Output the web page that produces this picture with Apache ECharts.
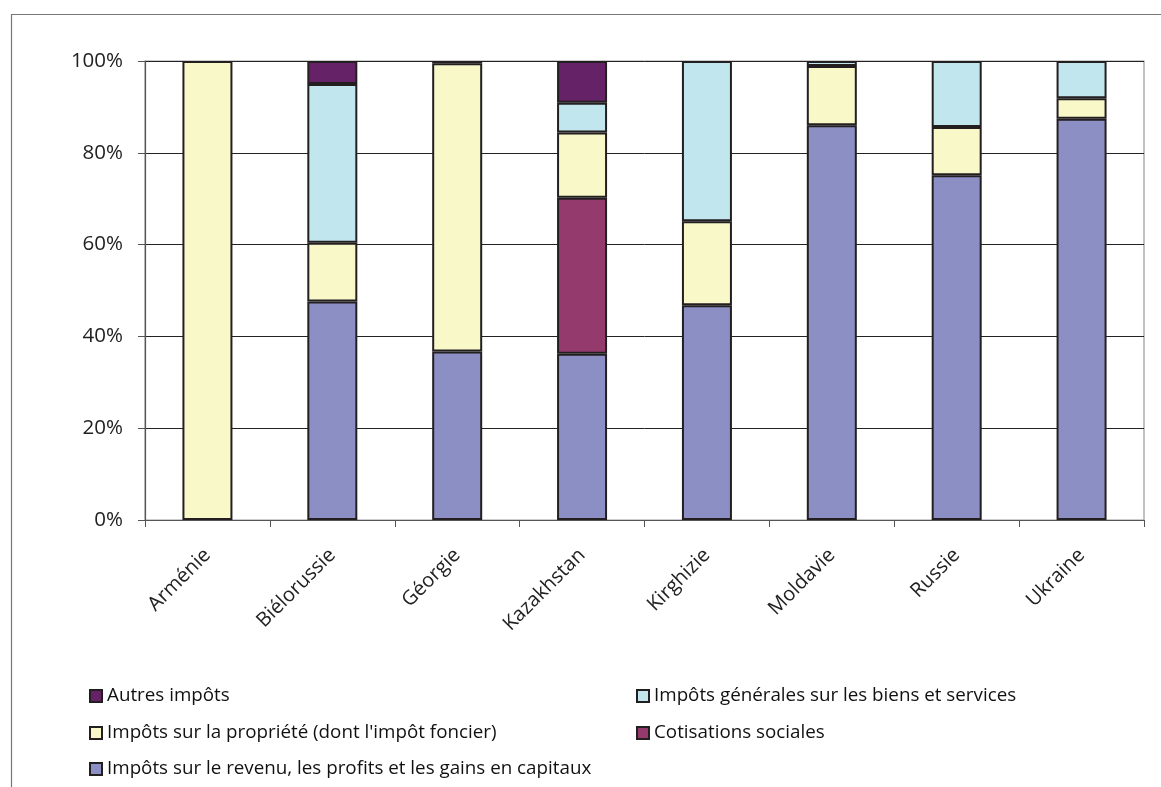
<!DOCTYPE html>
<html>
<head>
<meta charset="utf-8">
<script src="https://cdn.jsdelivr.net/npm/echarts@6/dist/echarts.min.js"></script>
<style>
html,body{margin:0;padding:0;background:#fff;}
#chart{width:1161px;height:787px;}
</style>
</head>
<body>
<div id="chart"></div>
<script>
const categories = ['Arménie','Biélorussie','Géorgie','Kazakhstan','Kirghizie','Moldavie','Russie','Ukraine'];
const yTicks = [0, 20, 40, 60, 80, 100];
const revenu = [null, 47.6, 36.7, 36.2, 46.8, 86.0, 75.1, 87.4];
const cotisations = [null, null, null, 34.0, null, null, null, null];
const propriete = [100, 12.8, 62.8, 14.2, 18.3, 12.9, 10.5, 4.5];
const biensServices = [null, 34.6, null, 6.5, 34.9, 1.1, 14.4, 8.1];
const autres = [null, 5.0, 0.5, 9.1, null, null, null, null];

const names = {
  autres: 'Autres impôts',
  biens: 'Impôts générales sur les biens et services',
  prop: "Impôts sur la propriété (dont l'impôt foncier)",
  cotis: 'Cotisations sociales',
  rev: 'Impôts sur le revenu, les profits et les gains en capitaux'
};
const colors = {
  rev: '#8B8FC4', cotis: '#953A6C', prop: '#F8F8C8', biens: '#C2E6EE', autres: '#652266'
};
const FONT = 'Open Sans';
const border = '#231F20';

function bar(key, data) {
  return {
    name: names[key], type: 'bar', stack: 'total', data: data,
    barWidth: 50,
    itemStyle: { color: colors[key], borderColor: border, borderWidth: 2 }
  };
}
function legendItem(key, left, top) {
  return {
    left: left, top: top, orient: 'horizontal', padding: 0,
    itemWidth: 12, itemHeight: 12, icon: 'rect', itemGap: 0,
    itemStyle: { borderColor: border, borderWidth: 2 },
    textStyle: { fontFamily: FONT, fontSize: 18.8, lineHeight: 22, color: '#111', padding: [0, 0, 0, 0] },
    data: [names[key]]
  };
}

const chart = echarts.init(document.getElementById('chart'), null, {renderer: 'canvas'});
chart.setOption({
  animation: false,
  backgroundColor: '#fff',
  graphic: [{
    type: 'rect', left: 9, top: 12, z: -10,
    shape: { width: 1300, height: 1000 },
    style: { fill: 'none', stroke: '#777', lineWidth: 1.2 }
  }],
  grid: { left: 145, top: 61, width: 999, height: 459, show: true, borderColor: '#999', borderWidth: 1.2, backgroundColor: 'transparent' },
  legend: [
    legendItem('autres', 89, 685),
    legendItem('prop', 89, 722),
    legendItem('rev', 89, 758),
    legendItem('biens', 636, 685),
    legendItem('cotis', 636, 722)
  ],
  xAxis: {
    type: 'category', data: categories,
    axisLine: { lineStyle: { color: '#555', width: 1.2 } },
    axisTick: { show: true, length: 7, lineStyle: { color: '#555' } },
    axisLabel: { rotate: 45, margin: 32, fontFamily: FONT, fontSize: 20, color: '#222' }
  },
  yAxis: {
    type: 'value', min: 0, max: 100, interval: 20,
    axisLine: { show: true, lineStyle: { color: '#555', width: 1.2 } },
    axisTick: { show: true, length: 7, lineStyle: { color: '#555' } },
    splitLine: { lineStyle: { color: '#222', width: 1 } },
    axisLabel: {
      margin: 22, fontFamily: FONT, fontSize: 20.5, color: '#222',
      formatter: v => (yTicks.indexOf(v) >= 0 ? v + '%' : '')
    }
  },
  series: [
    bar('rev', revenu),
    bar('cotis', cotisations),
    bar('prop', propriete),
    bar('biens', biensServices),
    bar('autres', autres)
  ]
});
</script>
</body>
</html>
